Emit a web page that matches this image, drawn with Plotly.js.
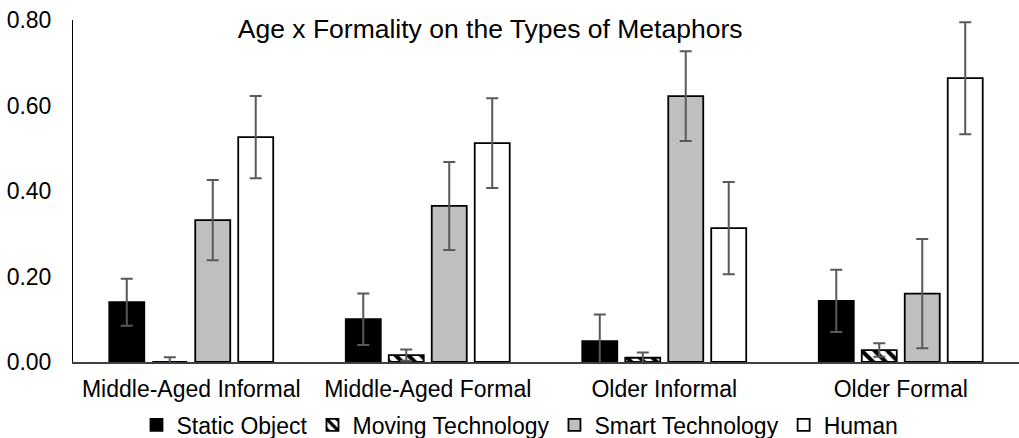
<!DOCTYPE html>
<html>
<head>
<meta charset="utf-8">
<script src="https://cdn.plot.ly/plotly-3.0.1.min.js"></script>
<style>html,body{margin:0;padding:0;background:#fff;}#chart{width:1019px;height:438px;}</style>
</head>
<body>
<div id="chart"></div>
<script>
var categories = ["Middle-Aged Informal", "Middle-Aged Formal", "Older Informal", "Older Formal"];
var seriesNames = ["Static Object", "Moving Technology", "Smart Technology", "Human"];
var staticObject = [0.140, 0.100, 0.049, 0.143];
var staticObjectErr = [0.055, 0.060, 0.062, 0.073];
var movingTech = [0.000, 0.016, 0.010, 0.028];
var movingTechErr = [0.011, 0.013, 0.012, 0.016];
var smartTech = [0.332, 0.365, 0.622, 0.160];
var smartTechErr = [0.094, 0.103, 0.105, 0.128];
var human = [0.526, 0.512, 0.313, 0.664];
var humanErr = [0.096, 0.105, 0.108, 0.131];
var yTickVals = [0, 0.2, 0.4, 0.6, 0.8];
var yTickText = ["0.00", "0.20", "0.40", "0.60", "0.80"];

var errStyle = function(arr){
  return {type:'data', array: arr, visible:true, color:'#595959', thickness:2, width:6};
};
var lineStyle = {color:'#000', width:1.8};

var data = [
  {type:'bar', name: seriesNames[0], x: categories, y: staticObject, error_y: errStyle(staticObjectErr),
   marker:{color:'#000000', line: lineStyle}},
  {type:'bar', name: seriesNames[1], x: categories, y: movingTech, error_y: errStyle(movingTechErr),
   marker:{color:'#ffffff', line: lineStyle, pattern:{shape:'\\', fgcolor:'#000', bgcolor:'#fff', size:9, solidity:0.45}}},
  {type:'bar', name: seriesNames[2], x: categories, y: smartTech, error_y: errStyle(smartTechErr),
   marker:{color:'#bfbfbf', line: lineStyle}},
  {type:'bar', name: seriesNames[3], x: categories, y: human, error_y: errStyle(humanErr),
   marker:{color:'#ffffff', line: lineStyle}}
];

var layout = {
  width:1019, height:438,
  margin:{l:73, r:0, t:20, b:76, pad:0, autoexpand:false},
  paper_bgcolor:'#fff', plot_bgcolor:'#fff',
  font:{family:'"Liberation Sans", Arial, sans-serif', size:23, color:'#000'},
  title:{text:'Age x Formality on the Types of Metaphors', font:{size:26.5, color:'#000'},
         x:0.481, xref:'container', xanchor:'center', y:0.935, yref:'container', yanchor:'middle'},
  barmode:'group', bargap:0.273, bargroupgap:0.186,
  showlegend:true,
  legend:{orientation:'h', x:0.4725, xanchor:'center', y:0.03, yref:'container', yanchor:'middle',
          font:{size:23}, itemwidth:30, tracegroupgap:0, bgcolor:'rgba(0,0,0,0)'},
  xaxis:{showline:true, linecolor:'#404040', linewidth:1.5, ticks:'', showgrid:false,
         tickfont:{size:23}, ticklabelstandoff:6, automargin:false},
  yaxis:{range:[0,0.8], tickvals:yTickVals, ticktext:yTickText, showgrid:false, zeroline:false,
         showline:true, linecolor:'#000', linewidth:1, ticks:'', tickfont:{size:23}, ticklabelstandoff:16, automargin:false}
};

Plotly.newPlot('chart', data, layout, {staticPlot:true, displayModeBar:false});
</script>
</body>
</html>
